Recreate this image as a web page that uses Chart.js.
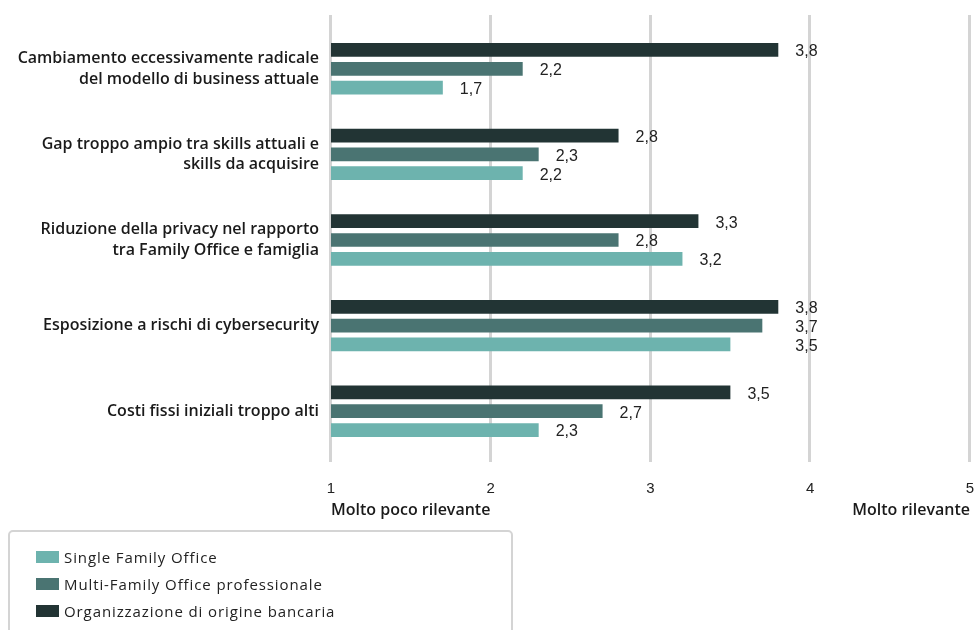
<!DOCTYPE html>
<html lang="it">
<head>
<meta charset="utf-8">
<title>Barriere all'adozione</title>
<script src="https://cdn.jsdelivr.net/npm/chart.js@4.4.1/dist/chart.umd.min.js"></script>
<style>
  html, body { margin: 0; padding: 0; background: #ffffff; }
  #wrap { position: relative; width: 975px; height: 630px; overflow: hidden; }
  #chart { position: absolute; left: 0; top: 0; }
  #legend {
    position: absolute; left: 8px; top: 530px; width: 505px; height: 120px;
    border: 2px solid #d4d4d4; border-radius: 5px; box-sizing: border-box;
    padding: 11px 0 0 26px;
    font-family: "Open Sans", "Noto Sans", sans-serif; font-size: 15px; color: #222;
    letter-spacing: 0.9px;
  }
  .item { height: 27px; display: flex; align-items: center; white-space: nowrap; }
  .swatch { width: 23px; height: 12px; margin-right: 5px; flex: none; }
</style>
</head>
<body>
<div id="wrap">
  <canvas id="chart" width="975" height="630"></canvas>
  <div id="legend"></div>
</div>
<script>
// Categorie (etichette su più righe)
const categories = [
  ["Cambiamento eccessivamente radicale", "del modello di business attuale"],
  ["Gap troppo ampio tra skills attuali e", "skills da acquisire"],
  ["Riduzione della privacy nel rapporto", "tra Family Office e famiglia"],
  ["Esposizione a rischi di cybersecurity"],
  ["Costi fissi iniziali troppo alti"]
];

// Nomi delle serie (ordine della legenda)
const seriesNames = [
  "Single Family Office",
  "Multi-Family Office professionale",
  "Organizzazione di origine bancaria"
];

// Punteggi medi (scala 1-5)
const singleFamilyOffice = [1.7, 2.2, 3.2, 3.5, 2.3];
const multiFamilyOffice  = [2.2, 2.3, 2.8, 3.7, 2.7];
const origineBancaria    = [3.8, 2.8, 3.3, 3.8, 3.5];

// Asse dei valori
const xTicks = [1, 2, 3, 4, 5];
const axisEndLabels = ["Molto poco rilevante", "Molto rilevante"];

const seriesColors = ["#6db3ae", "#4a7472", "#223434"];
const seriesValues = [singleFamilyOffice, multiFamilyOffice, origineBancaria];

const LABEL_FONT = '600 16px "Open Sans", "Noto Sans", sans-serif';
const VALUE_FONT = '16px "Liberation Sans", Arial, sans-serif';

// Datasets: la serie bancaria in alto, Single Family Office in basso
const datasets = [2, 1, 0].map(i => ({
  label: seriesNames[i],
  data: seriesValues[i],
  backgroundColor: seriesColors[i],
  borderWidth: 0,
  categoryPercentage: 0.66,
  barPercentage: 0.73
}));

const fmt = v => v.toFixed(1).replace('.', ',');

// Linee verticali della griglia, sotto le barre
const gridPlugin = {
  id: 'gridLines',
  beforeDatasetsDraw(chart) {
    const { ctx, scales: { x } } = chart;
    ctx.save();
    ctx.strokeStyle = '#d4d4d4';
    ctx.lineWidth = 3;
    xTicks.forEach(t => {
      const px = Math.round(x.getPixelForValue(t)) - 0.5;
      ctx.beginPath();
      ctx.moveTo(px, 15);
      ctx.lineTo(px, 462);
      ctx.stroke();
    });
    ctx.restore();
  }
};

// Etichette dei valori a destra delle barre; nei gruppi con valori molto vicini
// le etichette vengono incolonnate alla fine della barra più lunga
const valuePlugin = {
  id: 'valueLabels',
  afterDatasetsDraw(chart) {
    const { ctx } = chart;
    ctx.save();
    ctx.font = VALUE_FONT;
    ctx.fillStyle = '#222222';
    ctx.textAlign = 'left';
    ctx.textBaseline = 'middle';
    categories.forEach((c, j) => {
      const bars = chart.data.datasets.map((ds, d) => ({
        v: ds.data[j], el: chart.getDatasetMeta(d).data[j]
      }));
      const max = Math.max(...bars.map(b => b.v));
      const crowded = bars.every(b => max - b.v <= 0.35);
      const maxEnd = Math.max(...bars.map(b => b.el.x));
      bars.forEach(b => {
        const xEnd = crowded ? maxEnd : b.el.x;
        ctx.fillText(fmt(b.v), xEnd + 17, b.el.y + 2);
      });
    });
    ctx.restore();
  }
};

// Etichette agli estremi della scala, sotto i numeri
const axisEndPlugin = {
  id: 'axisEnds',
  afterDraw(chart) {
    const { ctx, scales: { x } } = chart;
    ctx.save();
    ctx.font = LABEL_FONT;
    ctx.fillStyle = '#1a1a1a';
    ctx.textBaseline = 'middle';
    ctx.textAlign = 'left';
    ctx.fillText(axisEndLabels[0], x.getPixelForValue(xTicks[0]), 510);
    ctx.textAlign = 'right';
    ctx.fillText(axisEndLabels[1], x.getPixelForValue(xTicks[xTicks.length - 1]), 510);
    ctx.restore();
  }
};

new Chart(document.getElementById('chart'), {
  type: 'bar',
  data: { labels: categories, datasets },
  options: {
    indexAxis: 'y',
    responsive: false,
    animation: false,
    layout: { padding: { top: 26, right: 5, left: 0, bottom: 0 } },
    plugins: { legend: { display: false }, tooltip: { enabled: false } },
    scales: {
      x: {
        min: 1, max: 5,
        grid: { display: false, drawTicks: false },
        border: { display: false },
        afterBuildTicks: s => { s.ticks = xTicks.map(v => ({ value: v })); },
        afterFit: s => { s.height = 176; s.paddingLeft = 0; s.paddingRight = 0; },
        ticks: {
          padding: 26,
          color: '#222222',
          font: { family: '"Liberation Sans", Arial, sans-serif', size: 15 },
          maxRotation: 0
        }
      },
      y: {
        grid: { display: false, drawTicks: false },
        border: { display: false },
        afterFit: s => { s.width = 331; s.paddingTop = 0; s.paddingBottom = 0; },
        ticks: {
          padding: 12,
          color: '#1a1a1a',
          font: { family: '"Open Sans", "Noto Sans", sans-serif', size: 16, weight: 600, lineHeight: 1.3 }
        }
      }
    }
  },
  plugins: [gridPlugin, valuePlugin, axisEndPlugin]
});

// Legenda
const legend = document.getElementById('legend');
seriesNames.forEach((name, i) => {
  const row = document.createElement('div');
  row.className = 'item';
  const sw = document.createElement('span');
  sw.className = 'swatch';
  sw.style.background = seriesColors[i];
  const tx = document.createElement('span');
  tx.textContent = name;
  row.appendChild(sw);
  row.appendChild(tx);
  legend.appendChild(row);
});
</script>
</body>
</html>
